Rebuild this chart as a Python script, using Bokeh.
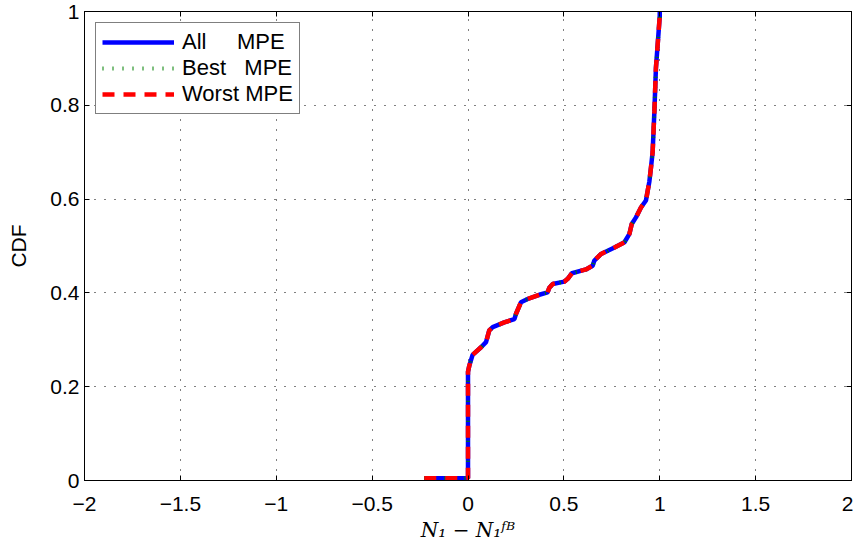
from bokeh.plotting import figure
from bokeh.models import Range1d, FixedTicker, LinearAxis, Legend, LegendItem
from bokeh.embed import file_html
from bokeh.resources import INLINE

# ---- data ----
cdf_x = [-0.228, 0.0, 0.0, 0.007, 0.024, 0.068, 0.094, 0.111, 0.129, 0.189, 0.242, 0.250,
         0.276, 0.311, 0.372, 0.415, 0.424, 0.442, 0.502, 0.520, 0.542, 0.615, 0.650, 0.659,
         0.694, 0.764, 0.816, 0.842, 0.854, 0.876, 0.902, 0.928, 0.946, 0.955, 0.963, 0.972,
         0.980, 0.993, 1.0, 1.0]
cdf_y = [0.005, 0.005, 0.232, 0.245, 0.268, 0.284, 0.295, 0.320, 0.327, 0.337, 0.344, 0.355,
         0.380, 0.387, 0.396, 0.401, 0.411, 0.419, 0.424, 0.430, 0.442, 0.450, 0.458, 0.469,
         0.483, 0.497, 0.508, 0.526, 0.547, 0.561, 0.582, 0.597, 0.638, 0.670, 0.701, 0.787,
         0.879, 0.951, 0.990, 1.0]

all_x, all_y = cdf_x, cdf_y
best_x, best_y = cdf_x, cdf_y
worst_x, worst_y = cdf_x, cdf_y

series_names = ["All\u00a0\u00a0\u00a0\u00a0\u00a0MPE", "Best\u00a0\u00a0\u00a0MPE", "Worst\u00a0MPE"]
x_ticks = [-2, -1.5, -1, -0.5, 0, 0.5, 1, 1.5, 2]
x_tick_labels = ["\u22122", "\u22121.5", "\u22121", "\u22120.5", "0", "0.5", "1", "1.5", "2"]
y_ticks = [0, 0.2, 0.4, 0.6, 0.8, 1]
y_tick_labels = ["0", "0.2", "0.4", "0.6", "0.8", "1"]
y_label = "CDF"
x_label = "N\u2081 \u2212 N\u2081\u1da0\u1d2e"

FONT = "Liberation Sans"

p = figure(width=853, height=546, output_backend="svg", toolbar_location=None,
           x_range=Range1d(-2, 2), y_range=Range1d(0, 1),
           min_border_left=84, min_border_right=2, min_border_top=11, min_border_bottom=66)
p.background_fill_color = "white"
p.border_fill_color = "white"
p.outline_line_color = "black"
p.outline_line_width = 1

def style_axis(ax, ticks, labels, show_labels=True):
    ax.ticker = FixedTicker(ticks=ticks)
    ax.axis_line_color = "black"
    ax.major_tick_line_color = "black"
    ax.major_tick_in = 5
    ax.major_tick_out = 0
    ax.minor_tick_line_color = None
    ax.major_label_text_font = FONT
    ax.major_label_text_color = "black"
    if show_labels:
        ax.major_label_overrides = {float(t): l for t, l in zip(ticks, labels)}
        ax.major_label_text_font_size = "21px"
    else:
        ax.major_label_overrides = {float(t): "" for t in ticks}
        ax.major_label_text_font_size = "1px"
        ax.major_label_standoff = 0

style_axis(p.xaxis[0], x_ticks, x_tick_labels)
p.xaxis[0].major_label_standoff = 16
p.xaxis[0].axis_label = x_label
p.xaxis[0].axis_label_text_font = "DejaVu Serif"
p.xaxis[0].axis_label_text_font_style = "italic"
p.xaxis[0].axis_label_text_font_size = "20px"
p.xaxis[0].axis_label_text_color = "black"
p.xaxis[0].axis_label_standoff = 4

style_axis(p.yaxis[0], y_ticks, y_tick_labels)
p.yaxis[0].major_label_standoff = 5
p.yaxis[0].axis_label = y_label
p.yaxis[0].axis_label_text_font = FONT
p.yaxis[0].axis_label_text_font_style = "normal"
p.yaxis[0].axis_label_text_font_size = "21px"
p.yaxis[0].axis_label_text_color = "black"
p.yaxis[0].axis_label_standoff = 17

top_ax = LinearAxis()
style_axis(top_ax, x_ticks, x_tick_labels, show_labels=False)
p.add_layout(top_ax, "above")
right_ax = LinearAxis()
style_axis(right_ax, y_ticks, y_tick_labels, show_labels=False)
p.add_layout(right_ax, "right")

p.xgrid[0].ticker = FixedTicker(ticks=x_ticks)
p.ygrid[0].ticker = FixedTicker(ticks=y_ticks)
for g in (p.xgrid[0], p.ygrid[0]):
    g.grid_line_color = "black"
    g.grid_line_dash = "1 9"
    g.grid_line_width = 1

r_all = p.line(all_x, all_y, line_color="#0000FF", line_width=4.5)
r_best = p.line(best_x, best_y, line_color="#008000", line_width=4, line_dash="1 9")
r_worst = p.line(worst_x, worst_y, line_color="#FF0000", line_width=4.5, line_dash="12 9")

legend = Legend(items=[LegendItem(label=series_names[0], renderers=[r_all]),
                       LegendItem(label=series_names[1], renderers=[r_best]),
                       LegendItem(label=series_names[2], renderers=[r_worst])],
                location="top_left", margin=11)
legend.border_line_color = "black"
legend.border_line_width = 1
legend.background_fill_color = "white"
legend.background_fill_alpha = 1
legend.label_text_font = FONT
legend.label_text_font_size = "22px"
legend.label_text_color = "black"
legend.glyph_width = 72
legend.glyph_height = 22
legend.label_height = 22
legend.label_standoff = 8
legend.padding = 6
legend.spacing = 0
p.add_layout(legend)

open("out.html", "w").write(file_html(p, INLINE))
